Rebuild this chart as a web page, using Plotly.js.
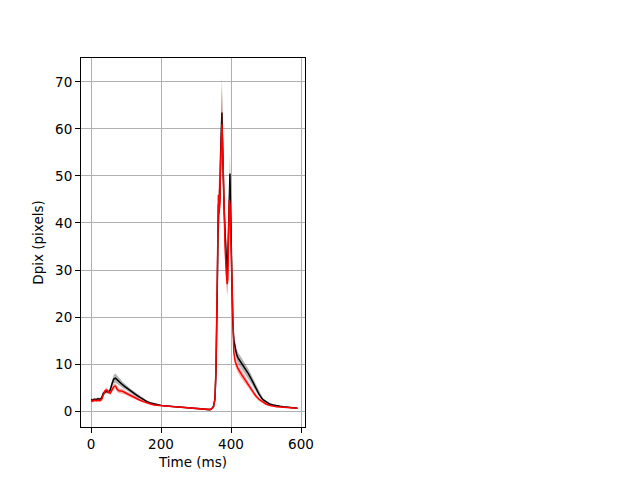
<!DOCTYPE html>
<html>
<head>
<meta charset="utf-8">
<script src="https://cdn.plot.ly/plotly-3.0.1.min.js"></script>
<style>html,body{margin:0;padding:0;background:#fff;}#chart{width:640px;height:480px;}</style>
</head>
<body>
<div id="chart"></div>
<script>
var timeMs = [0,5,10,15,20,25,30,35,40,45,50,55,60,65,70,75,80,85,90,95,100,
  110,120,130,140,150,160,170,180,190,200,210,220,230,240,250,260,270,280,290,300,310,320,330,340,
  345,350,354,357,360,362,364,366,368,370,372,374,376,378,380,383,386,389,391,393,395,397,399,401,403,405,408,412,416,420,
  430,440,450,460,470,480,490,500,510,520,530,540,550,560,570,580,590];

var blackMean = [2.4,2.3,2.5,2.4,2.6,2.5,2.7,3.8,4.0,4.2,4.0,4.5,5.8,6.8,7.0,6.6,6.2,6.0,5.6,5.3,5.0,
  4.4,3.9,3.4,2.9,2.4,2.0,1.7,1.5,1.3,1.2,1.1,1.0,0.95,0.9,0.85,0.8,0.75,0.7,0.65,0.6,0.55,0.5,0.4,0.3,
  0.5,1.0,2.5,8,22,36,44,43,45,54,62,63.5,56,47,44,38,32,29,33,42,49,50.5,42,32,24,19,15,13,12,11.3,
  10.2,9.0,7.9,6.5,5.0,3.6,2.5,1.9,1.5,1.3,1.1,1.0,0.9,0.8,0.7,0.7,0.6];

var blackErr = [0.3,0.3,0.3,0.3,0.3,0.3,0.3,0.4,0.4,0.4,0.4,0.5,0.7,0.9,1.0,0.9,0.8,0.7,0.6,0.6,0.5,
  0.5,0.45,0.4,0.35,0.3,0.25,0.2,0.2,0.15,0.15,0.15,0.1,0.1,0.1,0.1,0.1,0.1,0.1,0.1,0.1,0.1,0.1,0.1,0.1,
  0.1,0.2,0.4,1.0,2.0,3.0,3.5,3.5,3.5,4.5,6.0,7.5,6.0,4.5,4.0,3.5,3.0,3.0,3.0,3.5,4.0,4.5,4.5,3.5,2.5,2.0,1.5,1.3,1.2,1.2,
  1.2,1.1,1.0,0.9,0.7,0.5,0.4,0.3,0.2,0.2,0.15,0.1,0.1,0.1,0.1,0.1,0.1];

var redMean = [2.2,2.1,2.3,2.2,2.3,2.2,2.4,3.5,4.3,4.5,4.0,3.8,4.5,5.2,5.3,4.6,4.3,4.3,4.2,4.0,3.8,
  3.4,3.0,2.6,2.3,2.0,1.7,1.5,1.3,1.2,1.1,1.05,1.0,0.95,0.9,0.85,0.8,0.75,0.7,0.65,0.6,0.55,0.5,0.4,0.3,
  0.5,0.9,2.4,9,24,40,46,42,44,52,59,61,57,48,42,35,30,27,28,38,45,44,38,30,22,16,12.5,10.5,9.5,9.0,
  7.8,6.7,5.4,4.3,3.3,2.5,1.9,1.5,1.2,1.0,0.9,0.85,0.8,0.75,0.7,0.6,0.6];

var redErr = [0.3,0.3,0.3,0.3,0.3,0.3,0.3,0.4,0.5,0.5,0.4,0.4,0.5,0.6,0.6,0.6,0.5,0.5,0.5,0.5,0.4,
  0.4,0.35,0.3,0.3,0.25,0.2,0.2,0.15,0.15,0.15,0.1,0.1,0.1,0.1,0.1,0.1,0.1,0.1,0.1,0.1,0.1,0.1,0.1,0.1,
  0.1,0.2,0.4,1.2,2.5,3.5,4.0,3.5,3.5,4.5,6.0,8.0,6.0,4.5,4.0,3.5,3.0,2.5,2.5,3.0,3.5,3.5,3.0,2.5,2.0,1.5,1.2,1.0,0.9,0.9,
  0.9,0.8,0.7,0.6,0.5,0.4,0.3,0.25,0.2,0.15,0.1,0.1,0.1,0.1,0.1,0.1,0.1];

var xTicks = [0, 200, 400, 600];
var yTicks = [0, 10, 20, 30, 40, 50, 60, 70];

function band(mean, err, sign) {
  return mean.map(function (m, i) { return m + sign * err[i]; });
}

function bandTraces(mean, err, fillColor) {
  return [
    {x: timeMs, y: band(mean, err, 1), mode: 'lines', line: {width: 0, color: 'rgba(0,0,0,0)'}, hoverinfo: 'skip', showlegend: false},
    {x: timeMs, y: band(mean, err, -1), mode: 'lines', line: {width: 0, color: 'rgba(0,0,0,0)'}, fill: 'tonexty', fillcolor: fillColor, hoverinfo: 'skip', showlegend: false}
  ];
}

var traces = []
  .concat(bandTraces(blackMean, blackErr, 'rgba(0,0,0,0.3)'))
  .concat([{x: timeMs, y: blackMean, mode: 'lines', line: {color: '#000000', width: 1.5}, showlegend: false}])
  .concat(bandTraces(redMean, redErr, 'rgba(255,0,0,0.3)'))
  .concat([{x: timeMs, y: redMean, mode: 'lines', line: {color: '#ff0000', width: 1.5}, showlegend: false}]);

var font = {family: 'DejaVu Sans, sans-serif', size: 13.5, color: '#000'};

var layout = {
  width: 640, height: 480,
  margin: {l: 81, r: 335, t: 58, b: 53},
  paper_bgcolor: '#fff', plot_bgcolor: '#fff',
  font: font,
  showlegend: false,
  xaxis: {
    range: [-28.6, 611.4], tickvals: xTicks, ticktext: xTicks.map(String),
    showgrid: true, gridcolor: '#b0b0b0', gridwidth: 1,
    zeroline: false, showline: true, linecolor: '#000', linewidth: 1, mirror: true,
    ticks: 'outside', ticklen: 5, tickcolor: '#000', tickwidth: 1,
    tickfont: font,
    title: {text: 'Time (ms)', font: font, standoff: 6},
    automargin: false
  },
  yaxis: {
    range: [-3.4, 75.1], tickvals: yTicks, ticktext: yTicks.map(String),
    showgrid: true, gridcolor: '#b0b0b0', gridwidth: 1,
    zeroline: false, showline: true, linecolor: '#000', linewidth: 1, mirror: true,
    ticks: 'outside', ticklen: 5, tickcolor: '#000', tickwidth: 1,
    tickfont: font,
    title: {text: 'Dpix (pixels)', font: font, standoff: 8},
    automargin: false
  }
};

Plotly.newPlot('chart', traces, layout, {displayModeBar: false, staticPlot: true});
</script>
</body>
</html>
